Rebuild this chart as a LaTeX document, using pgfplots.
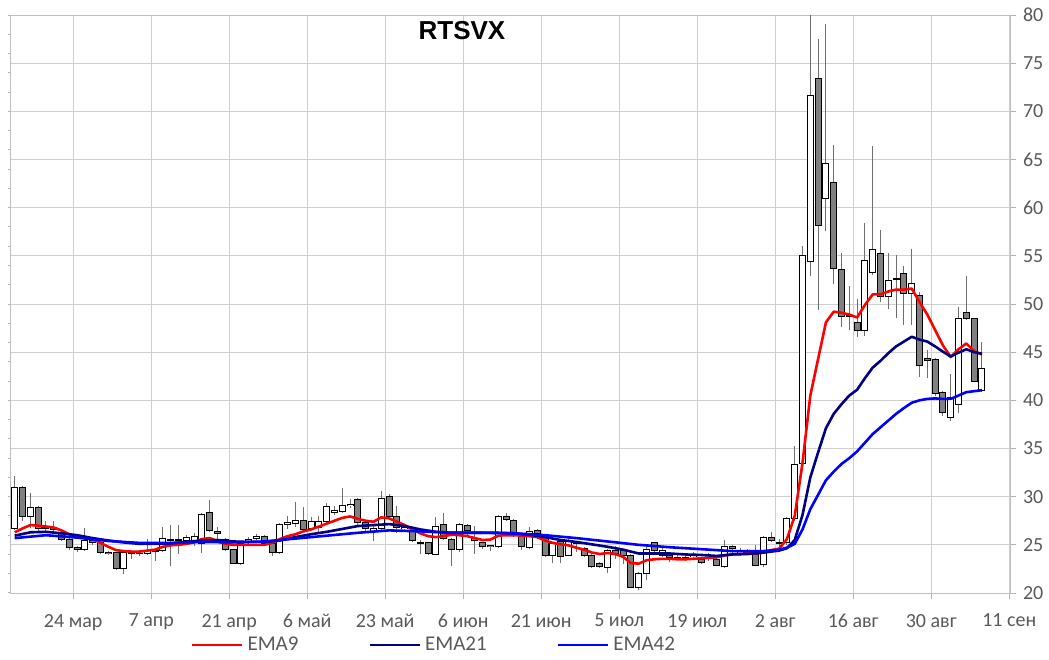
\documentclass[border=0pt]{standalone}
\usepackage{pgfplots}
\pgfplotsset{compat=1.18}
\usepackage{pgfplotstable}
\usepackage{fontspec}
\setmainfont{Carlito}
\newfontfamily\titlefont{Liberation Sans}
\definecolor{labelgray}{RGB}{89,89,89}
\definecolor{wick}{RGB}{110,110,110}
\definecolor{bodygray}{RGB}{128,128,128}
\definecolor{emanavy}{RGB}{0,0,128}
\definecolor{emablue}{RGB}{0,0,255}
\definecolor{emared}{RGB}{255,0,0}

\pgfplotstableread{
k o h l c
0 26.7 32.1 26.5 31.0
1 31.0 31.1 27.5 27.9
2 27.9 30.4 26.7 28.85
3 28.85 29.05 26.4 26.7
4 26.7 27.5 26.4 26.8
5 26.8 27.5 26.3 26.6
6 26.15 26.6 25.4 25.55
7 25.55 25.7 24.5 24.7
8 24.7 24.9 24.3 24.5
9 24.5 26.7 24.4 25.45
10 25.4 25.6 25.0 25.2
11 25.2 25.4 24.1 24.23
12 24.25 24.4 23.9 24.1
13 24.23 24.3 22.4 22.5
14 22.5 24.3 21.96 24.23
15 24.2 24.4 23.5 24.1
16 24.1 24.5 23.8 24.15
17 24.1 25.6 23.9 24.4
18 24.4 24.6 23.3 24.3
19 24.4 26.85 24.3 25.7
20 25.6 27.1 22.8 25.5
21 25.5 27.1 24.1 25.6
22 25.5 26.0 25.2 25.8
23 25.3 26.2 24.9 25.9
24 25.1 28.3 24.2 28.1
25 28.4 29.65 26.3 26.5
26 26.4 26.8 25.6 26.15
27 25.55 25.7 24.4 24.5
28 24.5 24.6 23.0 23.1
29 23.1 25.3 22.9 25.1
30 25.4 25.8 25.0 25.6
31 25.7 26.1 25.5 25.9
32 25.9 26.0 25.0 25.1
33 25.1 25.2 23.8 24.2
34 24.23 27.3 24.0 27.1
35 27.1 28.0 26.6 27.3
36 27.2 29.4 26.9 27.55
37 27.55 28.9 26.4 26.6
38 26.7 27.9 26.5 27.4
39 26.75 28.0 26.2 27.4
40 27.4 29.3 27.2 28.95
41 28.4 29.0 28.1 28.55
42 28.5 30.9 28.3 29.05
43 29.05 29.8 28.8 29.2
44 29.7 29.9 27.1 27.3
45 27.3 27.5 26.4 26.7
46 26.4 27.0 25.45 26.7
47 26.7 30.6 26.5 29.8
48 30.0 30.3 27.8 27.97
49 27.97 29.0 26.2 26.85
50 26.7 27.0 26.4 26.85
51 26.4 26.9 25.3 25.45
52 25.2 25.5 24.1 25.1
53 25.2 25.3 23.9 24.05
54 24.0 27.9 23.9 26.9
55 27.1 28.3 25.5 25.7
56 25.55 25.7 22.8 24.5
57 24.5 27.3 24.3 27.1
58 27.0 27.2 25.9 26.5
59 25.7 27.0 24.0 25.5
60 25.2 25.3 24.6 24.8
61 24.95 25.0 24.4 24.8
62 24.8 28.1 24.7 27.9
63 27.9 28.3 27.5 27.6
64 27.55 27.7 25.8 25.97
65 25.97 26.1 24.5 24.8
66 24.75 26.9 24.6 26.4
67 26.5 26.6 25.6 26.2
68 25.97 26.1 23.7 23.9
69 23.9 25.3 23.1 25.1
70 25.35 25.5 23.1 23.8
71 23.9 25.9 23.8 25.3
72 25.3 25.4 24.3 25.1
73 24.65 24.8 23.7 23.9
74 23.9 24.0 22.6 22.7
75 23.1 23.2 22.6 22.7
76 22.6 24.6 22.1 24.45
77 24.45 24.9 23.5 24.05
78 24.45 24.6 23.0 23.9
79 23.9 24.1 20.5 20.6
80 20.6 22.2 20.3 22.0
81 22.0 24.9 21.4 24.5
82 25.2 25.3 24.2 24.4
83 23.9 24.9 23.7 24.45
84 23.85 24.0 23.2 23.7
85 23.7 24.2 23.4 23.6
86 23.6 23.9 23.3 23.7
87 23.75 24.3 23.5 23.9
88 23.5 23.7 23.0 23.2
89 23.6 24.2 23.3 23.7
90 23.5 23.7 22.8 22.9
91 22.7 25.5 22.6 24.8
92 24.8 25.0 24.2 24.6
93 24.1 24.7 23.8 24.3
94 24.2 24.6 23.9 24.4
95 24.0 25.0 22.8 22.9
96 22.93 25.9 22.7 25.76
97 25.76 26.3 25.3 25.5
98 25.2 25.6 24.8 25.1
99 25.2 27.9 25.0 27.7
100 27.75 35.3 27.5 33.3
101 33.4 56.0 33.0 55.0
102 54.4 80.5 52.9 71.65
103 73.45 77.5 49.4 58.2
104 61.0 79.1 57.6 64.6
105 62.6 66.55 52.1 53.7
106 53.6 55.3 47.65 48.7
107 48.8 51.9 47.3 48.7
108 48.1 50.5 46.6 47.2
109 47.2 58.45 46.7 54.55
110 53.3 66.4 53.0 55.7
111 55.2 57.7 50.2 50.8
112 50.8 55.3 49.5 52.4
113 52.5 55.07 48.5 52.6
114 53.2 53.9 47.8 51.1
115 51.1 55.7 47.8 52.1
116 50.85 51.2 42.45 43.6
117 44.3 45.2 42.3 44.1
118 44.2 44.4 40.4 40.7
119 40.8 41.0 38.4 38.75
120 38.2 42.7 37.85 40.3
121 39.6 49.7 38.7 48.5
122 49.1 52.9 48.3 48.45
123 48.45 48.5 41.9 42.0
124 41.0 46.1 40.9 43.3
}\ohlc

\pgfplotstableread{
k v
0 26.3
1 26.7
2 27.05
3 27.0
4 26.9
5 26.8
6 26.5
7 26.1
8 25.85
9 25.75
10 25.6
11 25.2
12 24.8
13 24.45
14 24.35
15 24.3
16 24.3
17 24.4
18 24.5
19 24.8
20 24.95
21 25.0
22 25.1
23 25.25
24 25.6
25 25.7
26 25.4
27 25.1
28 25.0
29 25.0
30 25.0
31 25.0
32 25.0
33 25.2
34 25.6
35 25.9
36 26.1
37 26.4
38 26.6
39 26.9
40 27.2
41 27.5
42 27.8
43 27.95
44 27.7
45 27.5
46 27.4
47 27.85
48 27.75
49 27.4
50 27.05
51 26.6
52 26.2
53 25.9
54 25.8
55 25.9
56 26.05
57 26.0
58 25.9
59 25.7
60 25.5
61 25.55
62 25.95
63 26.0
64 26.0
65 25.95
66 25.9
67 25.8
68 25.45
69 25.2
70 25.05
71 24.95
72 24.7
73 24.5
74 24.2
75 24.05
76 24.15
77 24.05
78 23.75
79 23.1
80 23.05
81 23.4
82 23.5
83 23.55
84 23.55
85 23.5
86 23.5
87 23.55
88 23.6
89 23.65
90 23.7
91 23.9
92 24.0
93 24.05
94 24.1
95 24.1
96 24.2
97 24.45
98 24.6
99 25.6
100 28.0
101 33.5
102 40.5
103 44.3
104 48.1
105 49.2
106 49.1
107 48.9
108 48.6
109 49.9
110 51.0
111 51.0
112 51.3
113 51.5
114 51.5
115 51.6
116 50.2
117 48.9
118 47.3
119 45.7
120 44.5
121 45.3
122 45.9
123 45.1
124 44.75
}\emaA

\pgfplotstableread{
k v
0 25.95
2 26.3
4 26.35
6 26.2
8 26.0
10 25.7
12 25.45
14 25.25
16 25.1
18 25.1
20 25.15
22 25.3
24 25.45
26 25.5
28 25.35
30 25.3
32 25.3
34 25.45
36 25.8
38 26.1
40 26.35
42 26.65
44 26.95
46 27.05
48 27.15
50 26.95
52 26.6
54 26.35
56 26.25
58 26.25
60 26.25
62 26.25
64 26.2
66 26.05
68 25.8
70 25.5
72 25.3
74 25.05
76 24.8
78 24.5
80 24.1
82 24.1
84 24.1
86 24.0
88 23.95
90 23.85
92 24.0
94 24.05
96 24.2
98 24.4
99 24.65
100 25.5
101 28.1
102 32.0
103 34.6
104 37.1
105 38.6
106 39.6
107 40.5
108 41.1
109 42.3
110 43.4
111 44.1
112 44.9
113 45.6
114 46.1
115 46.6
116 46.3
117 46.1
118 45.6
119 45.05
120 44.55
121 44.95
122 45.3
123 45.0
124 44.85
}\emaB

\pgfplotstableread{
k v
0 25.7
4 26.0
8 25.75
12 25.4
16 25.2
20 25.2
24 25.3
28 25.25
32 25.35
36 25.65
40 25.95
44 26.25
48 26.5
52 26.4
56 26.25
60 26.25
64 26.2
68 26.0
72 25.7
76 25.35
80 25.0
84 24.75
88 24.55
92 24.35
96 24.35
98 24.5
99 24.7
100 25.1
101 26.6
102 28.7
103 30.2
104 31.7
105 32.6
106 33.4
107 34.0
108 34.7
109 35.6
110 36.5
111 37.2
112 37.9
113 38.6
114 39.2
115 39.75
116 40.0
117 40.15
118 40.2
119 40.15
120 40.15
121 40.5
122 40.85
123 40.95
124 41.05
}\emaC

\begin{document}
\begin{tikzpicture}
\path[use as bounding box] (0pt,0pt) rectangle (524.5pt,329.5pt);

% left-side unlabeled ticks
\begin{axis}[
  at={(5.5pt,33pt)}, anchor=south west,
  scale only axis, width=499.5pt, height=289pt,
  xmin=-0.47, xmax=127.6, ymin=20, ymax=80,
  axis x line=none, axis y line*=left,
  axis line style={draw=none},
  ytick={20,22,...,80}, yticklabels={},
  tick align=outside, major tick length=1.5pt,
  tick style={draw=gray!60, line width=0.5pt},
]
\addplot[draw=none] coordinates {(0,20)};
\end{axis}

\begin{axis}[
  at={(5.5pt,33pt)}, anchor=south west,
  scale only axis, width=499.5pt, height=289pt,
  xmin=-0.47, xmax=127.6, ymin=20, ymax=80,
  xtick={7.5,17.5,...,127.5},
  xticklabels={24 мар,7 апр,21 апр,6 май,23 май,6 июн,21 июн,5 июл,19 июл,2 авг,16 авг,30 авг,11 сен},
  ytick={20,25,...,80},
  xtick pos=bottom, ytick pos=right, yticklabel pos=right,
  tick align=outside, major tick length=3pt,
  tick style={draw=gray!60, line width=0.5pt},
  xmajorgrids, ymajorgrids,
  grid style={draw=gray!38, line width=0.5pt},
  axis line style={draw=gray!50, line width=0.5pt},
  ticklabel style={font=\fontsize{10}{12}\selectfont, text=labelgray},
  xticklabel style={yshift=-4pt},
  /pgf/number format/assume math mode=true,
  title={RTSVX},
  title style={at={(0.4514,0.953)}, anchor=center, font=\titlefont\bfseries\fontsize{13}{15}\selectfont},
  legend style={at={(0.4244,-0.09)}, anchor=center, legend columns=3, draw=none, fill=none,
    font=\fontsize{10.5}{12}\selectfont, text=labelgray,
    /tikz/every even column/.append style={column sep=33pt}},
  legend image code/.code={\draw[#1] (0pt,0pt) -- (25pt,0pt);},
]
% wicks
\addplot[draw=none, forget plot, error bars/.cd, y dir=plus, y explicit, error mark=none,
  error bar style={draw=wick, line width=0.55pt}]
  table[x=k, y=l, y error plus expr={\thisrow{h}-\thisrow{l}}] {\ohlc};
% body outlines
\addplot[draw=none, forget plot, error bars/.cd, y dir=plus, y explicit, error mark=none,
  error bar style={draw=black, line width=3.5pt}]
  table[x=k, y expr={min(\thisrow{o},\thisrow{c})-0.052}, y error plus expr={abs(\thisrow{c}-\thisrow{o})+0.104}] {\ohlc};
% white bodies
\addplot[draw=none, forget plot, restrict expr to domain={\thisrow{c}-\thisrow{o}}{0:100},
  error bars/.cd, y dir=plus, y explicit, error mark=none,
  error bar style={draw=white, line width=2.5pt}]
  table[x=k, y expr={\thisrow{o}+0.052}, y error plus expr={max(\thisrow{c}-\thisrow{o}-0.104,0)}] {\ohlc};
% gray bodies
\addplot[draw=none, forget plot, restrict expr to domain={\thisrow{o}-\thisrow{c}}{0.00001:100},
  error bars/.cd, y dir=plus, y explicit, error mark=none,
  error bar style={draw=bodygray, line width=2.5pt}]
  table[x=k, y expr={\thisrow{c}+0.052}, y error plus expr={max(\thisrow{o}-\thisrow{c}-0.104,0)}] {\ohlc};

\addplot[emared, line width=1.3pt, line join=round] table[x=k, y=v] {\emaA};
\addlegendentry{EMA9}
\addplot[emanavy, line width=1.3pt, line join=round] table[x=k, y=v] {\emaB};
\addlegendentry{EMA21}
\addplot[emablue, line width=1.3pt, line join=round] table[x=k, y=v] {\emaC};
\addlegendentry{EMA42}
\end{axis}
\end{tikzpicture}
\end{document}
